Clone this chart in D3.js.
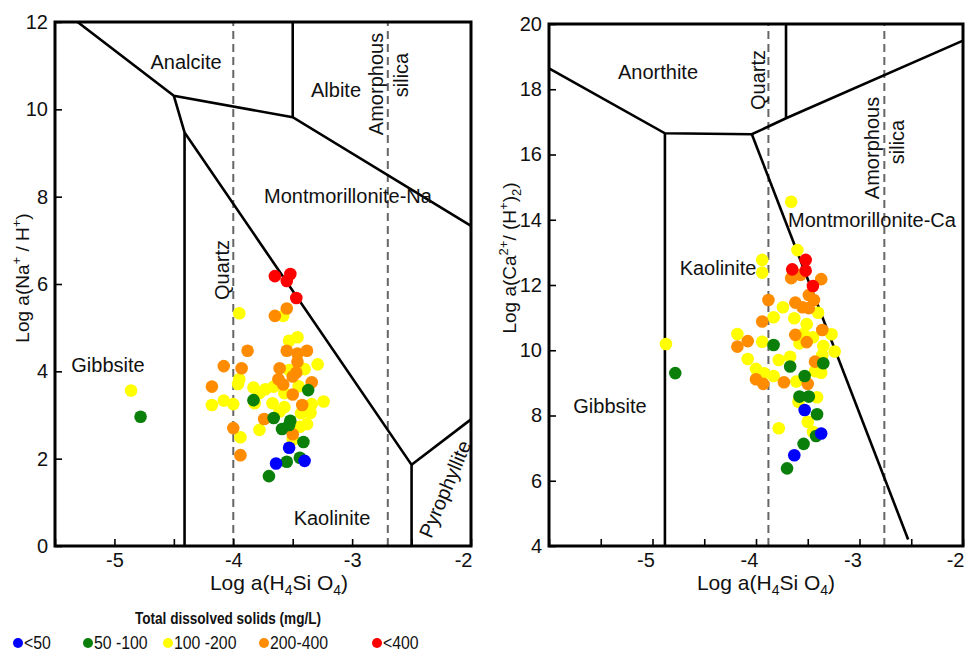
<!DOCTYPE html>
<html>
<head>
<meta charset="utf-8">
<script src="https://cdn.jsdelivr.net/npm/d3@7"></script>
<style>
  html, body { margin: 0; padding: 0; background: #fff; }
  svg { display: block; font-family: "Liberation Sans", Arial, sans-serif; }
</style>
</head>
<body>
<svg id="chart" width="968" height="655"></svg>
<script>
// ---- TDS classes (legend) ----
const tdsLabels = ["<50", "50 -100", "100 -200", "200-400", "<400"];
const tdsColors = ["#0000ff", "#0a800a", "#ffff00", "#ff8c00", "#ff0000"];

// ---- Na system samples: [log a(H4SiO4), log a(Na+/H+)] ----
const naLt50 = [[-3.53, 2.25], [-3.64, 1.89], [-3.40, 1.95]];
const na50to100 = [[-3.37, 3.57], [-3.83, 3.34], [-3.66, 2.93], [-3.52, 2.87], [-3.53, 2.77],
  [-3.59, 2.68], [-3.41, 2.38], [-3.44, 2.02], [-3.55, 1.93], [-3.70, 1.60], [-4.78, 2.96]];
const na100to200 = [[-3.95, 5.33], [-3.58, 5.27], [-3.53, 4.70], [-3.46, 4.78], [-3.40, 4.05],
  [-3.29, 4.16], [-3.53, 4.03], [-3.95, 3.82], [-3.96, 3.71], [-3.83, 3.63], [-3.73, 3.59],
  [-3.78, 3.50], [-3.66, 3.65], [-3.45, 3.66], [-3.57, 3.50], [-4.08, 3.33], [-4.18, 3.23],
  [-4.00, 3.25], [-3.82, 3.27], [-3.67, 3.27], [-3.57, 3.18], [-3.61, 3.08], [-3.34, 3.25],
  [-3.24, 3.31], [-3.43, 3.04], [-3.35, 3.05], [-3.38, 2.79], [-3.44, 2.73], [-3.78, 2.66],
  [-3.94, 2.49], [-3.50, 2.43], [-4.86, 3.56]];
const na200to400 = [[-3.55, 5.44], [-3.65, 5.27], [-3.88, 4.47], [-3.55, 4.47], [-3.46, 4.41],
  [-3.38, 4.47], [-3.46, 4.22], [-4.08, 4.12], [-3.93, 4.07], [-3.61, 4.07], [-3.47, 3.97],
  [-3.50, 3.88], [-3.62, 3.82], [-3.58, 3.70], [-3.34, 3.75], [-4.18, 3.65], [-3.50, 3.47],
  [-3.42, 3.23], [-3.74, 2.91], [-4.00, 2.70], [-3.50, 2.56], [-3.94, 2.08]];
const naGt400 = [[-3.65, 6.18], [-3.52, 6.23], [-3.55, 6.07], [-3.47, 5.68]];

// ---- Ca system samples: [log a(H4SiO4), log a(Ca2+/(H+)2)] ----
const caLt50 = [[-3.53, 8.17], [-3.37, 7.45], [-3.63, 6.78]];
const ca50to100 = [[-3.83, 10.16], [-3.35, 9.60], [-3.67, 9.50], [-3.53, 9.21], [-3.58, 8.58],
  [-3.49, 8.58], [-3.41, 8.04], [-3.42, 7.37], [-3.54, 7.13], [-3.70, 6.38], [-4.78, 9.30]];
const ca100to200 = [[-3.66, 14.55], [-3.60, 13.07], [-3.94, 12.77], [-3.94, 12.38], [-3.74, 11.32],
  [-3.83, 11.01], [-3.63, 10.98], [-3.51, 10.80], [-3.40, 11.15], [-4.18, 10.50], [-3.94, 10.26],
  [-3.54, 10.50], [-3.45, 10.40], [-3.58, 10.21], [-3.27, 10.49], [-3.35, 10.13], [-3.24, 9.96],
  [-3.36, 9.85], [-4.08, 9.73], [-3.78, 9.70], [-3.67, 9.80], [-4.00, 9.43], [-3.92, 9.29],
  [-3.83, 9.21], [-3.43, 9.36], [-3.37, 9.31], [-3.61, 9.04], [-3.41, 8.56], [-3.59, 8.42],
  [-3.50, 7.81], [-3.78, 7.61], [-3.45, 7.50], [-4.87, 10.19]];
const ca200to400 = [[-3.66, 12.21], [-3.57, 12.31], [-3.37, 12.18], [-3.88, 11.54], [-3.49, 11.69],
  [-3.62, 11.46], [-3.55, 11.32], [-3.49, 11.29], [-3.44, 11.54], [-3.94, 10.88], [-3.36, 10.62],
  [-3.62, 10.47], [-3.51, 10.25], [-4.18, 10.11], [-4.08, 10.28], [-3.43, 9.65], [-4.00, 9.11],
  [-3.93, 8.97], [-3.73, 9.02], [-3.50, 8.97]];
const caGt400 = [[-3.52, 12.77], [-3.65, 12.48], [-3.52, 12.44], [-3.45, 11.97]];

// ---- stability field boundaries (polylines in data units) ----
const naBoundaries = [
  [[-5.31, 12], [-4.50, 10.31], [-3.50, 9.82], [-2.00, 7.33]],
  [[-3.50, 12], [-3.50, 9.82]],
  [[-4.50, 10.31], [-4.41, 9.47], [-4.41, 0]],
  [[-4.41, 9.47], [-2.50, 1.86], [-2.50, 0]],
  [[-2.50, 1.86], [-2.00, 2.90]]
];
const caBoundaries = [
  [[-6.00, 18.64], [-4.88, 16.65], [-4.04, 16.62], [-3.71, 17.11], [-2.00, 19.49]],
  [[-3.71, 20], [-3.71, 17.11]],
  [[-4.88, 16.65], [-4.88, 4]],
  [[-4.04, 16.62], [-2.53, 4.20]]
];
// silica saturation lines: quartz, amorphous silica
const naSilica = [-4.0, -2.7];
const caSilica = [-3.88, -2.76];

// ---- axis ticks ----
const naXTicks = [-5.5, -5, -4.5, -4, -3.5, -3, -2.5, -2];
const naYTicks = [0, 2, 4, 6, 8, 10, 12];
const caXTicks = [-6, -5.5, -5, -4.5, -4, -3.5, -3, -2.5, -2];
const caYTicks = [4, 6, 8, 10, 12, 14, 16, 18, 20];

const svg = d3.select("#chart");
const FONT = 20;

function drawPanel(cfg) {
  const x = d3.scaleLinear().domain(cfg.xDomain).range(cfg.xRange);
  const y = d3.scaleLinear().domain(cfg.yDomain).range(cfg.yRange);
  const g = svg.append("g");

  // silica saturation (dashed)
  g.selectAll("line.silica").data(cfg.silica).join("line")
    .attr("x1", d => x(d)).attr("x2", d => x(d))
    .attr("y1", y(cfg.yDomain[0])).attr("y2", y(cfg.yDomain[1]))
    .attr("stroke", "#666").attr("stroke-width", 2)
    .attr("stroke-dasharray", "8,5");

  // stability boundaries
  const line = d3.line().x(d => x(d[0])).y(d => y(d[1]));
  g.selectAll("path.bnd").data(cfg.boundaries).join("path")
    .attr("d", line).attr("fill", "none")
    .attr("stroke", "#000").attr("stroke-width", 2.6)
    .attr("stroke-linejoin", "miter");

  // samples
  cfg.series.forEach(s => {
    g.append("g").selectAll("circle").data(s.values).join("circle")
      .attr("cx", d => x(d[0])).attr("cy", d => y(d[1]))
      .attr("r", 6.3).attr("fill", s.color);
  });

  // axes with inward ticks
  const xMax = cfg.xDomain[1];
  const xAxis = g.append("g").attr("transform", `translate(0,${cfg.yRange[0]})`)
    .call(d3.axisBottom(x).tickValues(cfg.xTicks).tickSize(-7).tickPadding(7)
      .tickFormat(d => Number.isInteger(d) && d > cfg.xDomain[0] ? String(d) : ""));
  xAxis.selectAll(".tick text")
    .attr("text-anchor", d => d === xMax ? "end" : "middle")
    .attr("dx", d => d === xMax ? 1 : cfg.xLabelDx);
  const yAxis = g.append("g").attr("transform", `translate(${cfg.xRange[0]},0)`)
    .call(d3.axisLeft(y).tickValues(cfg.yTicks).tickSize(-7).tickPadding(7)
      .tickFormat(d => String(d)));
  [xAxis, yAxis].forEach(a => {
    a.select(".domain").remove();
    a.selectAll(".tick line").attr("stroke", "#000").attr("stroke-width", 1.6);
    a.selectAll(".tick text").attr("fill", "#111").style("font-size", FONT + "px")
      .style("font-family", "'Liberation Sans', Arial, sans-serif");
  });

  // frame
  g.append("rect")
    .attr("x", cfg.xRange[0]).attr("y", cfg.yRange[1])
    .attr("width", cfg.xRange[1] - cfg.xRange[0])
    .attr("height", cfg.yRange[0] - cfg.yRange[1])
    .attr("fill", "none").attr("stroke", "#000").attr("stroke-width", 3);

  // field labels
  cfg.labels.forEach(l => {
    g.append("text")
      .attr("transform", `translate(${l.x},${l.y}) rotate(${l.rot || 0})`)
      .attr("text-anchor", "middle").attr("dominant-baseline", "central")
      .attr("fill", "#111").style("font-size", FONT + "px")
      .text(l.text);
  });

  // x title: Log a(H4Si O4)
  const xt = g.append("text")
    .attr("x", cfg.xTitleX).attr("y", 590)
    .attr("text-anchor", "middle").attr("fill", "#111").style("font-size", "21px");
  xt.append("tspan").text("Log a(H");
  xt.append("tspan").attr("dy", 5).style("font-size", "14px").text("4");
  xt.append("tspan").attr("dy", -5).text("Si O");
  xt.append("tspan").attr("dy", 5).style("font-size", "14px").text("4");
  xt.append("tspan").attr("dy", -5).text(")");

  // y title
  const yt = g.append("text")
    .attr("transform", `translate(${cfg.yTitleX},${cfg.yTitleY}) rotate(-90)`)
    .attr("text-anchor", "middle").attr("fill", "#111").style("font-size", "19px");
  cfg.yTitle.forEach(p => {
    const t = yt.append("tspan").text(p.t);
    if (p.dy) t.attr("dy", p.dy);
    if (p.small) t.style("font-size", "13px");
  });
}

drawPanel({
  xDomain: [-5.5, -2], xRange: [55, 471],
  yDomain: [0, 12], yRange: [546, 22],
  xTicks: naXTicks, yTicks: naYTicks, xLabelDx: 0,
  silica: naSilica, boundaries: naBoundaries,
  series: [
    { values: na100to200, color: tdsColors[2] },
    { values: na200to400, color: tdsColors[3] },
    { values: na50to100, color: tdsColors[1] },
    { values: naLt50, color: tdsColors[0] },
    { values: naGt400, color: tdsColors[4] }
  ],
  labels: [
    { text: "Analcite", x: 186, y: 62 },
    { text: "Albite", x: 336, y: 90 },
    { text: "Amorphous", x: 376, y: 84, rot: -90 },
    { text: "silica", x: 401, y: 75, rot: -90 },
    { text: "Montmorillonite-Na", x: 348, y: 196 },
    { text: "Quartz", x: 222, y: 270, rot: -90 },
    { text: "Gibbsite", x: 108, y: 365 },
    { text: "Kaolinite", x: 332, y: 518 },
    { text: "Pyrophyllite", x: 445, y: 489, rot: -67 }
  ],
  xTitleX: 279,
  yTitleX: 29, yTitleY: 278,
  yTitle: [{ t: "Log a(Na" }, { t: "+", dy: -8, small: true }, { t: " / H", dy: 8 },
    { t: "+", dy: -8, small: true }, { t: ")", dy: 8 }]
});

drawPanel({
  xDomain: [-6, -2], xRange: [549, 963],
  yDomain: [4, 20], yRange: [546, 24],
  xTicks: caXTicks, yTicks: caYTicks, xLabelDx: -7,
  silica: caSilica, boundaries: caBoundaries,
  series: [
    { values: ca100to200, color: tdsColors[2] },
    { values: ca200to400, color: tdsColors[3] },
    { values: ca50to100, color: tdsColors[1] },
    { values: caLt50, color: tdsColors[0] },
    { values: caGt400, color: tdsColors[4] }
  ],
  labels: [
    { text: "Anorthite", x: 658, y: 72 },
    { text: "Quartz", x: 758, y: 80, rot: -90 },
    { text: "Amorphous", x: 872, y: 148, rot: -90 },
    { text: "silica", x: 897, y: 142, rot: -90 },
    { text: "Montmorillonite-Ca", x: 872, y: 220 },
    { text: "Kaolinite", x: 718, y: 268 },
    { text: "Gibbsite", x: 610, y: 406 }
  ],
  xTitleX: 766,
  yTitleX: 516, yTitleY: 258,
  yTitle: [{ t: "Log a(Ca" }, { t: "2+", dy: -8, small: true }, { t: "/ (H", dy: 8 },
    { t: "+", dy: -8, small: true }, { t: ")", dy: 8 }, { t: "2", dy: 5, small: true }, { t: ")", dy: -5 }]
});

// ---- legend (condensed lettering) ----
const legend = svg.append("g");
legend.append("text")
  .attr("transform", "translate(228,624) scale(0.8,1)")
  .attr("text-anchor", "middle")
  .attr("fill", "#111").style("font-size", "17px").style("font-weight", "bold")
  .text("Total dissolved solids (mg/L)");
const legendDotX = [18, 88, 168, 264, 377];
const items = legend.selectAll("g.item").data(tdsLabels).join("g")
  .attr("transform", (d, i) => `translate(${legendDotX[i]},643)`);
items.append("circle").attr("r", 5).attr("fill", (d, i) => tdsColors[i]);
items.append("text").attr("transform", "translate(6,0) scale(0.88,1)")
  .attr("dy", "0.36em").attr("fill", "#111")
  .style("font-size", "18px").text(d => d);
</script>
</body>
</html>
